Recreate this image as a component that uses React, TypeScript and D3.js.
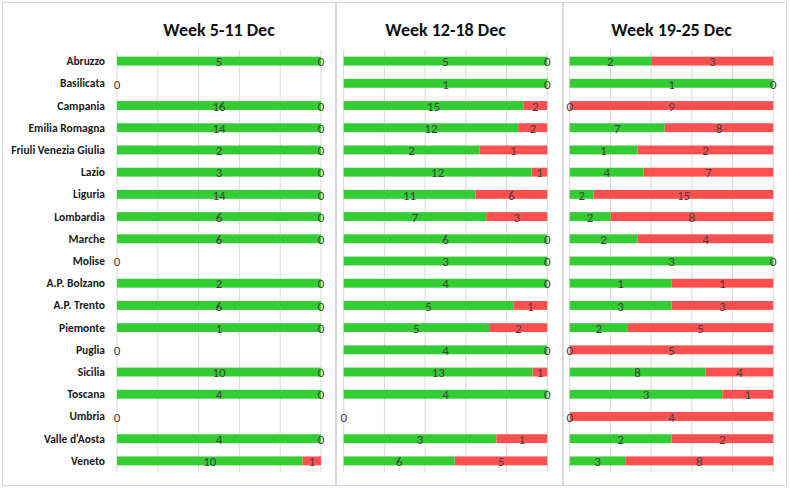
import React from "react";
import * as d3 from "d3";

const regions = [
  "Abruzzo", "Basilicata", "Campania", "Emilia Romagna", "Friuli Venezia Giulia",
  "Lazio", "Liguria", "Lombardia", "Marche", "Molise", "A.P. Bolzano", "A.P. Trento",
  "Piemonte", "Puglia", "Sicilia", "Toscana", "Umbria", "Valle d'Aosta", "Veneto",
];

const weekTitles = ["Week 5-11 Dec", "Week 12-18 Dec", "Week 19-25 Dec"];

const week1Green = [5, 0, 16, 14, 2, 3, 14, 6, 6, 0, 2, 6, 1, 0, 10, 4, 0, 4, 10];
const week1Red = [0, 0, 0, 0, 0, 0, 0, 0, 0, 0, 0, 0, 0, 0, 0, 0, 0, 0, 1];
const week2Green = [5, 1, 15, 12, 2, 12, 11, 7, 6, 3, 4, 5, 5, 4, 13, 4, 0, 3, 6];
const week2Red = [0, 0, 2, 2, 1, 1, 6, 3, 0, 0, 0, 1, 2, 0, 1, 0, 0, 1, 5];
const week3Green = [2, 1, 0, 7, 1, 4, 2, 2, 2, 3, 1, 3, 2, 0, 8, 3, 0, 2, 3];
const week3Red = [3, 0, 9, 8, 2, 7, 15, 8, 4, 0, 1, 3, 5, 5, 4, 1, 4, 2, 8];

const greens = [week1Green, week2Green, week3Green];
const reds = [week1Red, week2Red, week3Red];

const FONT = "Carlito, Calibri, Lato, sans-serif";
const GREEN = "#33CC33";
const RED = "#FF5050";
const GRID = "#D9D9D9";
const LABEL = "#404040";

const panels = [
  { x0: 2, x1: 335, p0: 117, p1: 321 },
  { x0: 336, x1: 562, p0: 343.7, p1: 547.3 },
  { x0: 563, x1: 786, p0: 569.7, p1: 773.3 },
];
const TOP = 2;
const BOTTOM = 485;
const PLOT_TOP = 50;
const PLOT_BOTTOM = 472;

export default function App() {
  const y = d3.scaleBand<string>().domain(regions).range([PLOT_TOP, PLOT_BOTTOM]).padding(0);
  const barH = y.bandwidth() * 0.4;
  const ticks = d3.range(0, 1.0001, 0.2);

  return (
    <svg width={790} height={489} style={{ position: "absolute", left: 0, top: 0, background: "#fff" }}>
      {panels.map((p, pi) => {
        const x = d3.scaleLinear().domain([0, 1]).range([p.p0, p.p1]);
        const g = greens[pi];
        const r = reds[pi];
        return (
          <g key={pi}>
            <rect x={p.x0 + 0.5} y={TOP + 0.5} width={p.x1 - p.x0} height={BOTTOM - TOP} fill="#fff" stroke={GRID} strokeWidth={1} />
            <text x={(p.p0 + p.p1) / 2} y={36} textAnchor="middle" fontFamily={FONT} fontWeight="bold" fontSize={18} fill="#111">
              {weekTitles[pi]}
            </text>
            {ticks.map((t, i) => (
              <line key={i} x1={x(t)} x2={x(t)} y1={PLOT_TOP} y2={PLOT_BOTTOM} stroke={GRID} strokeWidth={1} />
            ))}
            {pi === 0 &&
              regions.map((name) => (
                <text key={name} x={105} y={y(name)! + y.bandwidth() / 2} dy="0.35em" textAnchor="end" fontFamily={FONT} fontWeight="bold" fontSize={11.5} fill="#1a1a1a">
                  {name}
                </text>
              ))}
            {regions.map((name, i) => {
              const total = g[i] + r[i];
              const cy = y(name)! + y.bandwidth() / 2;
              if (total === 0) {
                return (
                  <text key={name} x={x(0)} y={cy} dy="0.4em" textAnchor="middle" fontFamily={FONT} fontSize={13} fill={LABEL}>
                    0
                  </text>
                );
              }
              const gf = g[i] / total;
              return (
                <g key={name}>
                  <rect x={x(0)} y={cy - barH / 2} width={x(gf) - x(0)} height={barH} fill={GREEN} />
                  <rect x={x(gf)} y={cy - barH / 2} width={x(1) - x(gf)} height={barH} fill={RED} />
                  <text x={(x(0) + x(gf)) / 2} y={cy} dy="0.4em" textAnchor="middle" fontFamily={FONT} fontSize={13} fill={LABEL}>
                    {g[i]}
                  </text>
                  <text x={(x(gf) + x(1)) / 2} y={cy} dy="0.4em" textAnchor="middle" fontFamily={FONT} fontSize={13} fill={LABEL}>
                    {r[i]}
                  </text>
                </g>
              );
            })}
          </g>
        );
      })}
    </svg>
  );
}
